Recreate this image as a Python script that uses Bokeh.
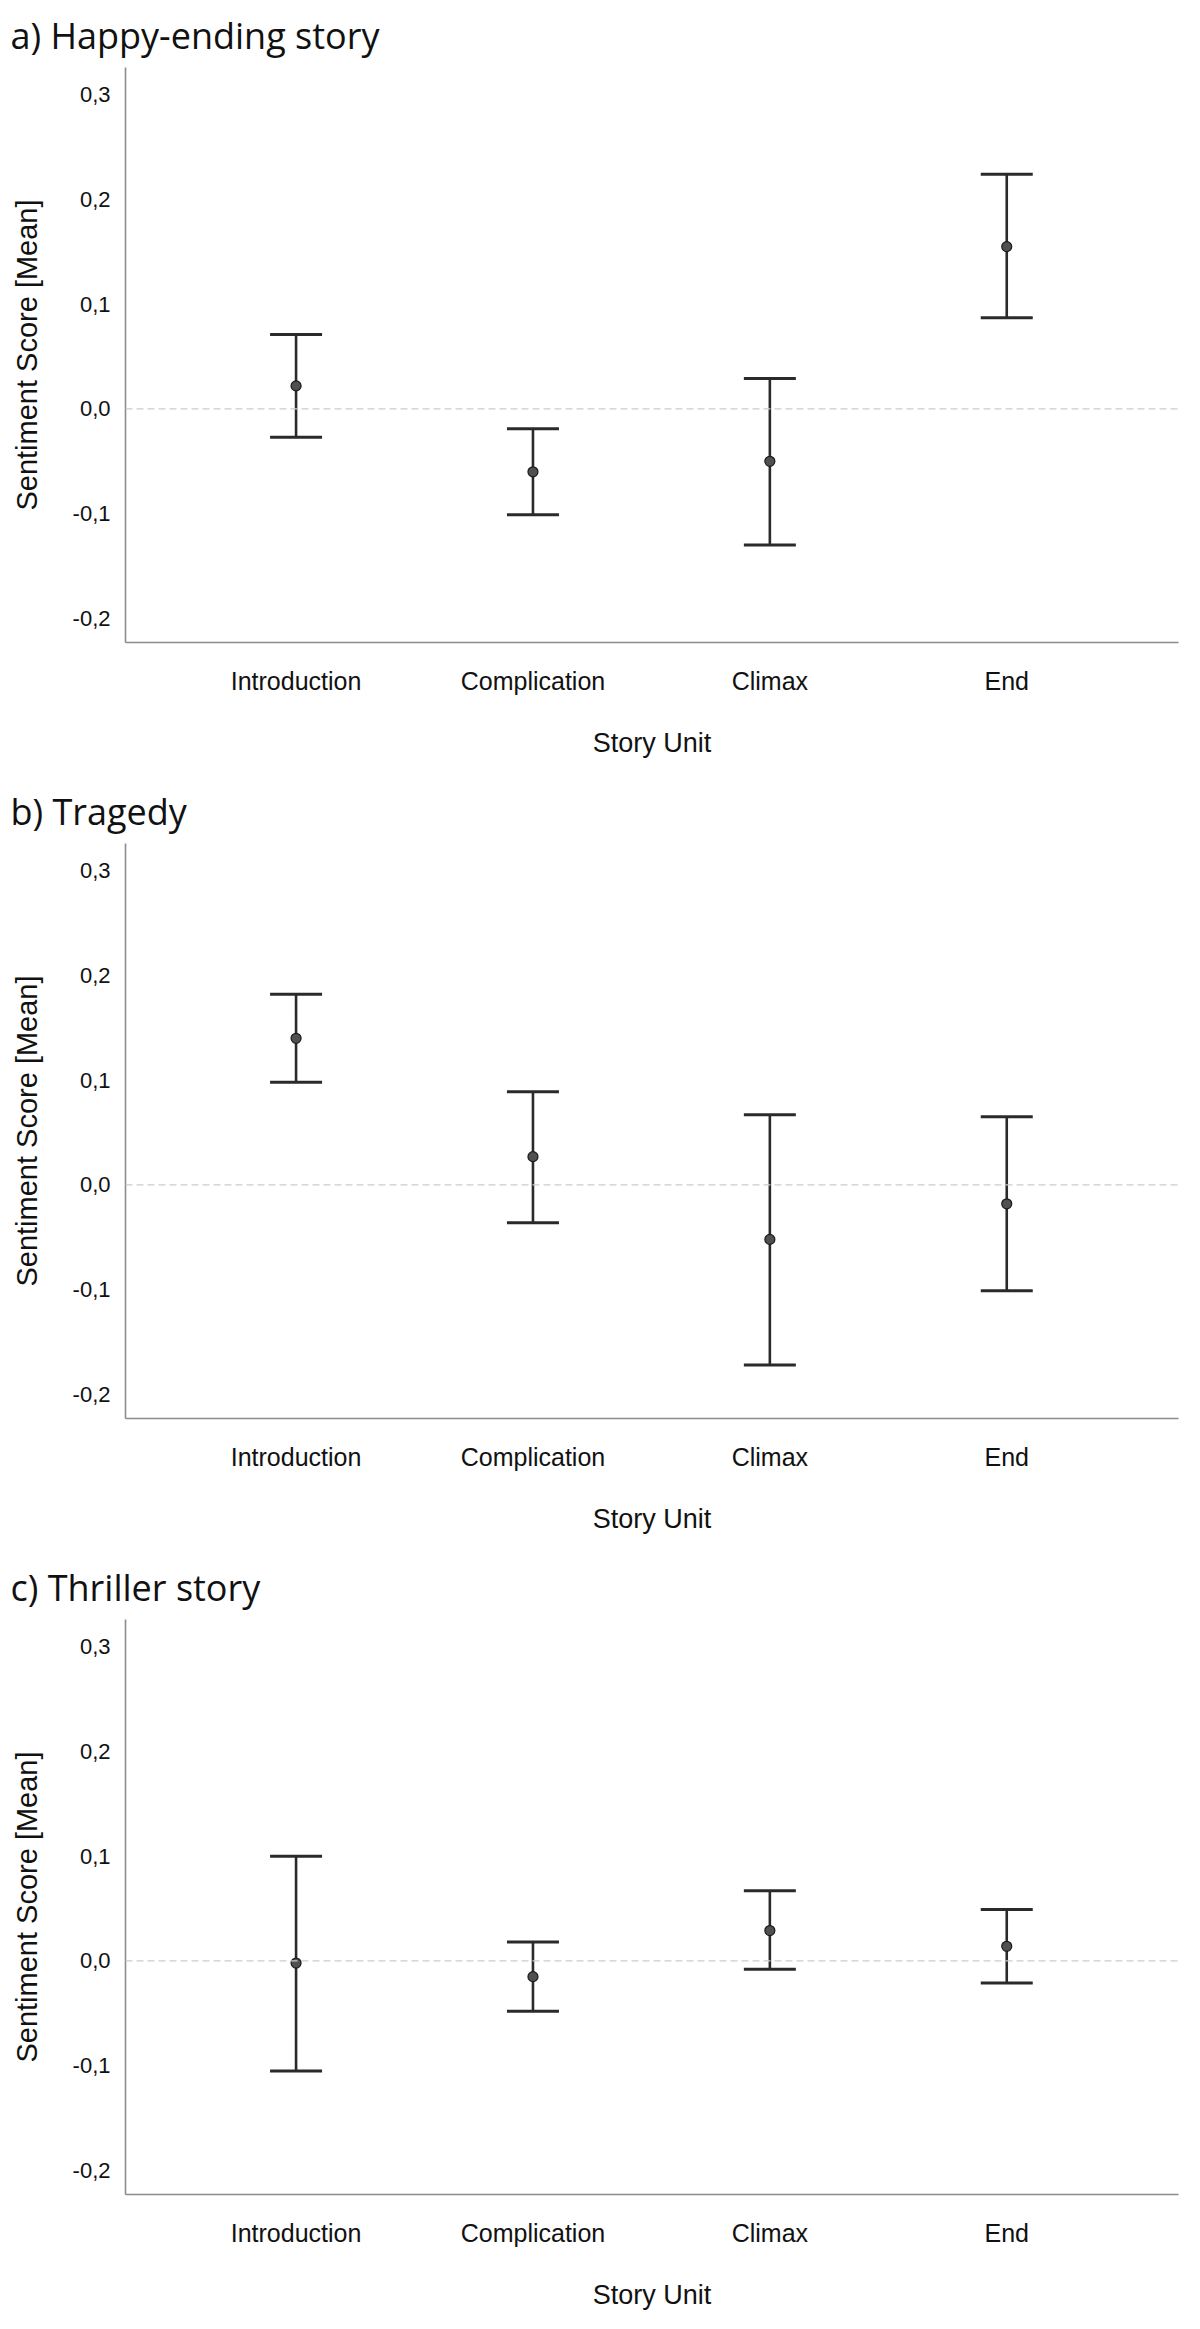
from bokeh.plotting import figure
from bokeh.models import (ColumnDataSource, Range1d, FixedTicker, Whisker, TeeHead,
                          Span, Title)
from bokeh.layouts import column
from bokeh.embed import file_html
from bokeh.resources import INLINE

# ---- data ----
units = ["Introduction", "Complication", "Climax", "End"]
unit_pos = [1, 2, 3, 4]

panel_titles = ["a) Happy-ending story", "b) Tragedy", "c) Thriller story"]

happy_mean = [0.022, -0.060, -0.050, 0.155]
happy_lower = [-0.027, -0.101, -0.130, 0.087]
happy_upper = [0.071, -0.019, 0.029, 0.224]

tragedy_mean = [0.140, 0.027, -0.052, -0.018]
tragedy_lower = [0.098, -0.036, -0.172, -0.101]
tragedy_upper = [0.182, 0.089, 0.067, 0.065]

thriller_mean = [-0.002, -0.015, 0.029, 0.014]
thriller_lower = [-0.105, -0.048, -0.008, -0.021]
thriller_upper = [0.100, 0.018, 0.067, 0.049]

y_ticks = [-0.2, -0.1, 0.0, 0.1, 0.2, 0.3]
y_tick_labels = ["-0,2", "-0,1", "0,0", "0,1", "0,2", "0,3"]

y_label = "Sentiment Score [Mean]"
x_label = "Story Unit"

panels = [
    (panel_titles[0], happy_mean, happy_lower, happy_upper, 776),
    (panel_titles[1], tragedy_mean, tragedy_lower, tragedy_upper, 776),
    (panel_titles[2], thriller_mean, thriller_lower, thriller_upper, 761),
]

AX_FONT = "Liberation Sans"
TITLE_FONT = "Open Sans"
FRAME_TOP = 65
FRAME_H = 577


def make_panel(title, mean, lower, upper, height):
    p = figure(width=1184, height=height, output_backend="svg", toolbar_location=None,
               x_range=Range1d(0.28, 4.725), y_range=Range1d(-0.223, 0.326),
               min_border_left=125, min_border_right=6,
               min_border_top=FRAME_TOP,
               min_border_bottom=height - FRAME_TOP - FRAME_H)
    p.outline_line_color = None
    p.xgrid.visible = False
    p.ygrid.visible = False
    p.background_fill_color = "white"
    p.border_fill_color = "white"

    t = Title(text=title, text_font=TITLE_FONT, text_font_size="36px",
              text_font_style="normal", text_color="#111111", align="left",
              offset=-115, standoff=16)
    p.add_layout(t, "above")

    src = ColumnDataSource(dict(x=unit_pos, mean=mean, lower=lower, upper=upper))

    p.add_layout(Span(location=0, dimension="width", line_color="#cccccc",
                      line_dash="7 4", line_width=1.3))

    w = Whisker(base="x", lower="lower", upper="upper", source=src,
                line_color="#2a2a2a", line_width=2.6,
                upper_head=TeeHead(size=52, line_color="#2a2a2a", line_width=3),
                lower_head=TeeHead(size=52, line_color="#2a2a2a", line_width=3))
    p.add_layout(w)
    p.scatter("x", "mean", source=src, size=10, fill_color="#505050",
              line_color="#1a1a1a", line_width=1.2)

    # x axis
    xa = p.xaxis[0]
    xa.ticker = FixedTicker(ticks=unit_pos)
    xa.major_label_overrides = {pos: lab for pos, lab in zip(unit_pos, units)}
    xa.major_tick_line_color = None
    xa.minor_tick_line_color = None
    xa.major_tick_out = 0
    xa.axis_line_color = "#8c8c8c"
    xa.axis_line_width = 1.6
    xa.major_label_text_font = AX_FONT
    xa.major_label_text_font_size = "25px"
    xa.major_label_text_color = "#111111"
    xa.major_label_standoff = 24
    xa.axis_label = x_label
    xa.axis_label_text_font = AX_FONT
    xa.axis_label_text_font_size = "27px"
    xa.axis_label_text_font_style = "normal"
    xa.axis_label_text_color = "#111111"
    xa.axis_label_standoff = 30

    # y axis
    ya = p.yaxis[0]
    ya.ticker = FixedTicker(ticks=y_ticks)
    ya.major_label_overrides = {v: s for v, s in zip(y_ticks, y_tick_labels)}
    ya.major_tick_line_color = None
    ya.minor_tick_line_color = None
    ya.major_tick_out = 0
    ya.axis_line_color = "#8c8c8c"
    ya.axis_line_width = 1.6
    ya.major_label_text_font = AX_FONT
    ya.major_label_text_font_size = "22px"
    ya.major_label_text_color = "#111111"
    ya.major_label_standoff = 15
    ya.axis_label = y_label
    ya.axis_label_text_font = AX_FONT
    ya.axis_label_text_font_size = "29px"
    ya.axis_label_text_font_style = "normal"
    ya.axis_label_text_color = "#111111"
    ya.axis_label_standoff = 27
    return p


figs = [make_panel(*args) for args in panels]
layout = column(*figs, spacing=0)

open("out.html", "w").write(file_html(layout, INLINE))
